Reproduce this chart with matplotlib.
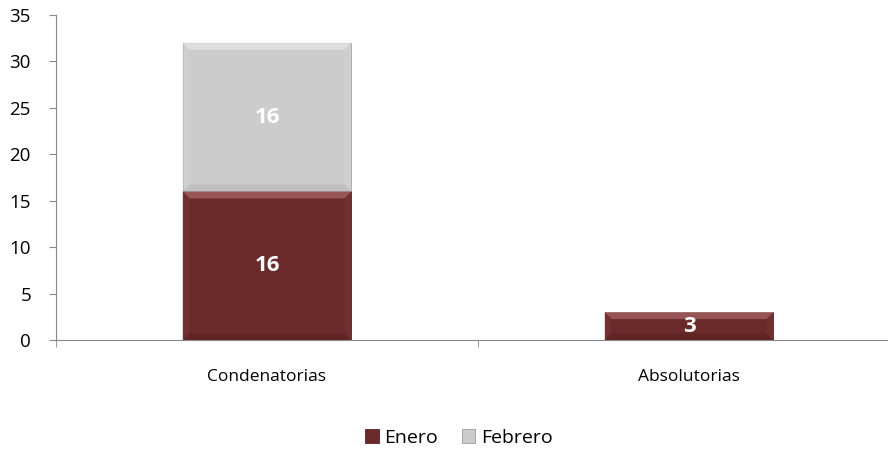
import matplotlib
matplotlib.use("Agg")
import matplotlib.pyplot as plt
from matplotlib.patches import Polygon
from matplotlib.transforms import IdentityTransform
import numpy as np

categories = ["Condenatorias", "Absolutorias"]
enero = [16, 3]
febrero = [16, 0]
series_names = ["Enero", "Febrero"]
yticks = [0, 5, 10, 15, 20, 25, 30, 35]

plt.rcParams['font.family'] = ['Open Sans', 'DejaVu Sans']

W, H = 888, 451
fig = plt.figure(figsize=(W/100, H/100), dpi=100)
ax = fig.add_axes([56/W, 111/H, (900-56)/W, (340-15)/H])

x = np.arange(len(categories))
w = 0.40
c1 = "#6B2A2A"
c2 = "#CCCCCC"
b1 = ax.bar(x, enero, w, color=c1, edgecolor="#5a2222", linewidth=0.6, label=series_names[0], zorder=2)
b2 = ax.bar(x, febrero, w, bottom=enero, color=c2, edgecolor="#9a9a9a", linewidth=0.6, label=series_names[1], zorder=2)

ax.set_xlim(-0.5, len(categories) - 0.5)
ax.set_ylim(0, 35)

# soft bevel shading
bev = {c1: ("#A86464", "#773434", "#5A2020"), c2: ("#E6E6E6", "#D2D2D2", "#B4B4B4")}
for bars, col in ((b1, c1), (b2, c2)):
    top, side, bot = bev[col]
    for r in bars:
        if r.get_height() <= 0:
            continue
        (xa, ya), (xb, yb) = ax.transData.transform([(r.get_x(), r.get_y()),
                                                     (r.get_x() + r.get_width(), r.get_y() + r.get_height())])
        d = min(7, (yb - ya) / 4)
        polys = [
            ([(xa, yb), (xb, yb), (xb - d, yb - d), (xa + d, yb - d)], top, 0.75),
            ([(xa, ya), (xb, ya), (xb - d, ya + d), (xa + d, ya + d)], bot, 0.5),
            ([(xa, ya), (xa, yb), (xa + d, yb - d), (xa + d, ya + d)], side, 0.5),
            ([(xb, ya), (xb, yb), (xb - d, yb - d), (xb - d, ya + d)], side, 0.5),
        ]
        for pts, c, a in polys:
            ax.add_patch(Polygon(pts, closed=True, facecolor=c, edgecolor="none",
                                 transform=IdentityTransform(), zorder=3, alpha=a))

for i in range(len(categories)):
    if enero[i] > 0:
        ax.text(x[i], enero[i]/2, str(enero[i]), ha="center", va="center",
                color="white", fontsize=16, fontweight="bold", zorder=5)
    if febrero[i] > 0:
        ax.text(x[i], enero[i] + febrero[i]/2, str(febrero[i]), ha="center", va="center",
                color="white", fontsize=16, fontweight="bold", zorder=5)

ax.set_yticks(yticks)
ax.set_xticks(x)
ax.set_xticklabels(categories, fontsize=12.5)
ax.tick_params(axis='x', length=0, pad=21)
ax.set_xticks([-0.5, 0.5, 1.5], minor=True)
ax.tick_params(axis='x', which='minor', length=5, color="#888888", direction='out')
ax.tick_params(axis='y', labelsize=13.5, length=5, color="#888888", direction='out', pad=13)
for s in ["top", "right"]:
    ax.spines[s].set_visible(False)
for s in ["left", "bottom"]:
    ax.spines[s].set_color("#888888")

leg = fig.legend(handles=[b1, b2], labels=series_names, loc="center",
                 bbox_to_anchor=(459/W, 1 - 438/H), ncol=2, frameon=False,
                 fontsize=14, handlelength=0.7, handleheight=0.7, handletextpad=0.3,
                 columnspacing=1.2)

fig.savefig("out.png", dpi=100)
